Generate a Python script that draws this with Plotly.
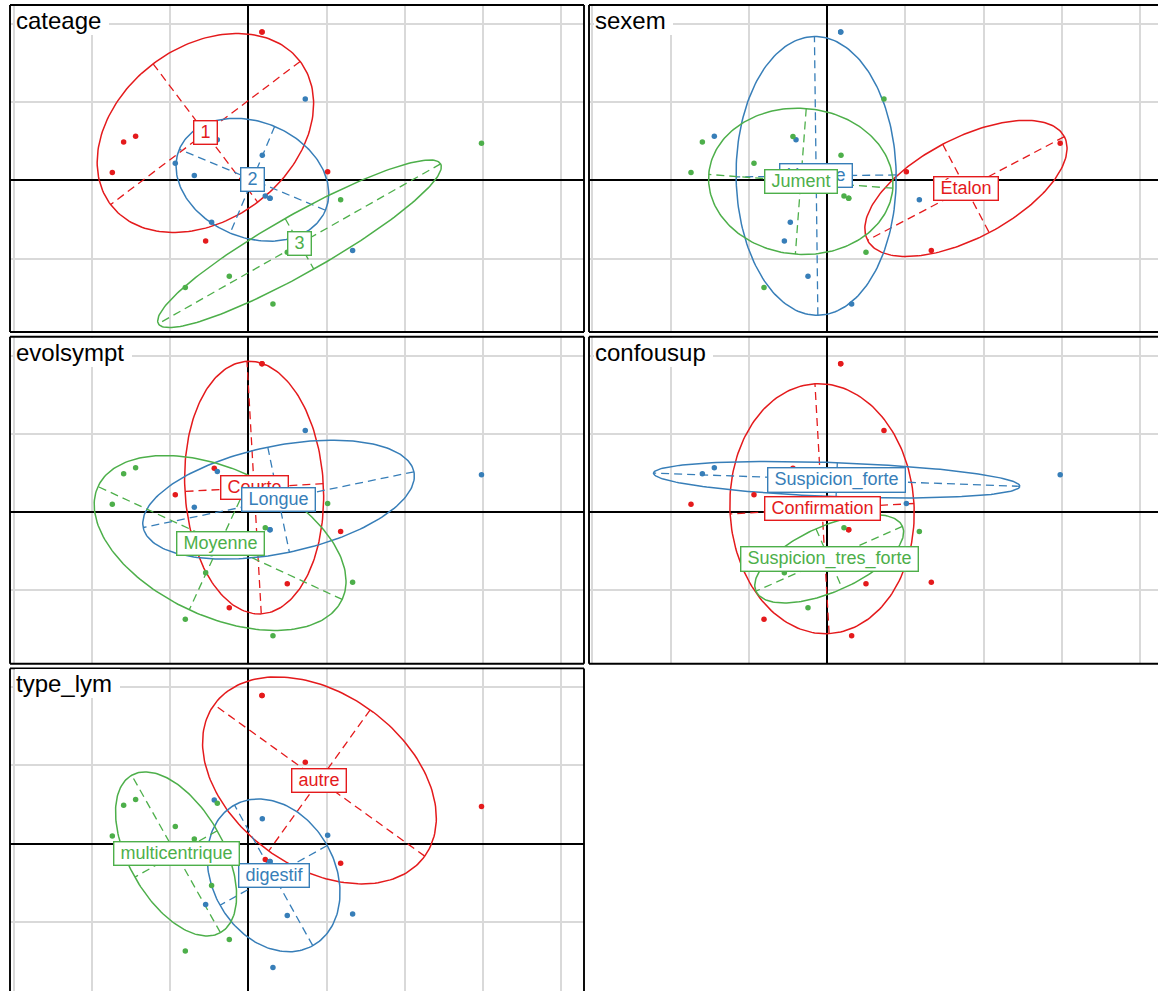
import numpy as np
import plotly.graph_objects as go

# ---------------- data ----------------
ind_x = [0.175, 0.175, 0.728, -1.440, -1.593, -0.435, -0.396, 0.179, -0.933, -1.738,
         1.014, 2.980, 1.180, 0.217, 0.277, 0.277, -0.469, -0.545, 0.498, 1.333,
         -0.243, -0.805, 0.315, -0.690]
ind_y = [1.895, 1.895, 1.040, 0.564, 0.490, 0.560, 0.518, 0.320, 0.219, 0.100,
         0.109, 0.475, -0.249, -0.202, -0.228, -0.228, -0.535, -0.777, -0.918, -0.897,
         -1.225, -1.370, -1.582, 0.060]

cateage = ["1", "1", "2", "1", "1", "1", "2", "2", "2", "1",
           "1", "3", "3", "2", "2", "2", "2", "1", "3", "2",
           "3", "3", "3", "2"]
sexem = ["Hongre", "Hongre", "Jument", "Hongre", "Jument", "Jument", "Hongre", "Jument", "Jument", "Jument",
         "Étalon", "Étalon", "Hongre", "Jument", "Jument", "Jument", "Hongre", "Hongre", "Jument", "Étalon",
         "Hongre", "Jument", "Hongre", "Jument"]
evolsympt = ["Courte", "Courte", "Longue", "Moyenne", "Moyenne", "Courte", "Longue", "Courte", "Courte", "Moyenne",
             "Moyenne", "Longue", "Courte", "Moyenne", "Longue", "Longue", "Longue", "Moyenne", "Courte", "Moyenne",
             "Courte", "Moyenne", "Moyenne", "Longue"]
confousup = ["Confirmation", "Confirmation", "Confirmation", "Suspicion_forte", "Suspicion_forte", "Confirmation",
             "Suspicion_forte", "Suspicion_forte", "Confirmation", "Confirmation",
             "Suspicion_forte", "Suspicion_forte", "Suspicion_tres_forte", "Suspicion_tres_forte", "Confirmation",
             "Confirmation", "Suspicion_tres_forte", "Suspicion_tres_forte", "Confirmation", "Confirmation",
             "Suspicion_tres_forte", "Confirmation", "Confirmation", "Confirmation"]
type_lym = ["autre", "autre", "autre", "multicentrique", "multicentrique", "digestif", "multicentrique", "digestif",
            "multicentrique", "multicentrique",
            "digestif", "autre", "autre", "autre", "digestif", "digestif", "multicentrique", "digestif", "digestif",
            "digestif", "multicentrique", "multicentrique", "digestif", "multicentrique"]

var_names = ["cateage", "sexem", "evolsympt", "confousup", "type_lym"]
var_values = [cateage, sexem, evolsympt, confousup, type_lym]
var_levels = [["1", "2", "3"],
              ["Étalon", "Hongre", "Jument"],
              ["Courte", "Longue", "Moyenne"],
              ["Confirmation", "Suspicion_forte", "Suspicion_tres_forte"],
              ["autre", "digestif", "multicentrique"]]
level_colors = ["#E41A1C", "#377EB8", "#4DAF4A"]
ellipse_size = 1.5

# ---------------- geometry (pixels) ----------------
W, H = 1158, 991
SCALE = 78.25
col_left = [10, 589]
col_right = [584, 1158]
col_origin = [248.3, 827.0]
row_top = [5.0, 336.7, 668.4]
panel_h = 327.0
origin_off = 175.3
FONT = "Liberation Sans, Arial, Helvetica, sans-serif"


def ellipse(xs, ys, coeff):
    xs = np.asarray(xs, float)
    ys = np.asarray(ys, float)
    mx, my = xs.mean(), ys.mean()
    vx = ((xs - mx) ** 2).mean()
    vy = ((ys - my) ** 2).mean()
    cxy = ((xs - mx) * (ys - my)).mean()
    delta = np.sqrt((vx - vy) ** 2 + 4 * cxy * cxy)
    l1 = max((vx + vy + delta) / 2, 0)
    l2 = max(vx + vy - l1, 0)
    l1, l2 = np.sqrt(l1), np.sqrt(l2)
    if abs(cxy) < 1e-10:
        a0, b0 = (1.0, 0.0) if vx > vy else (0.0, 1.0)
    else:
        a0 = 1.0
        b0 = (l1 * l1 - vx) / cxy
        n = np.hypot(a0, b0)
        a0, b0 = a0 / n, b0 / n
    c11 = coeff * a0 * l1
    c12 = -coeff * b0 * l2
    c21 = coeff * b0 * l1
    c22 = coeff * a0 * l2
    t = np.linspace(0, 2 * np.pi, 201)
    ex = mx + c11 * np.cos(t) + c12 * np.sin(t)
    ey = my + c21 * np.cos(t) + c22 * np.sin(t)
    seg1 = ([mx + c11, mx - c11], [my + c21, my - c21])
    seg2 = ([mx + c12, mx - c12], [my + c22, my - c22])
    return mx, my, ex, ey, seg1, seg2


fig = go.Figure()
layout = dict(width=W, height=H, margin=dict(l=0, r=0, t=0, b=0),
              paper_bgcolor="white", plot_bgcolor="white", showlegend=False,
              font=dict(family=FONT))
shapes = []
annotations = []

for i, (vname, vals, levels) in enumerate(zip(var_names, var_values, var_levels)):
    col, row = i % 2, i // 2
    k = "" if i == 0 else str(i + 1)
    xa, ya = "x" + k, "y" + k
    left, right = col_left[col], col_right[col]
    top = row_top[row]
    bottom = min(top + panel_h, H)
    ox, oy = col_origin[col], top + origin_off
    xr = [(left - ox) / SCALE, (right - ox) / SCALE]
    yr = [(oy - bottom) / SCALE, (oy - top) / SCALE]
    axis_common = dict(showticklabels=False, ticks="", showline=False,
                       showgrid=True, gridcolor="#D9D9D9", gridwidth=1.7,
                       dtick=1, tick0=0, zeroline=True, zerolinecolor="black",
                       zerolinewidth=1.6, fixedrange=True)
    layout["xaxis" + k] = dict(axis_common, range=xr, domain=[left / W, right / W], anchor=ya)
    layout["yaxis" + k] = dict(axis_common, range=yr, domain=[1 - bottom / H, 1 - top / H], anchor=xa)

    centers = []
    for li, lev in enumerate(levels):
        idx = [j for j, v in enumerate(vals) if v == lev]
        gx = [ind_x[j] for j in idx]
        gy = [ind_y[j] for j in idx]
        colr = level_colors[li]
        mx, my, ex, ey, s1, s2 = ellipse(gx, gy, ellipse_size)
        centers.append((mx, my, lev, colr))
        for s in (s1, s2):
            fig.add_trace(go.Scatter(x=s[0], y=s[1], mode="lines", xaxis=xa, yaxis=ya,
                                     line=dict(color=colr, width=1.3, dash="8px,5px"),
                                     hoverinfo="skip"))
        fig.add_trace(go.Scatter(x=ex, y=ey, mode="lines", xaxis=xa, yaxis=ya,
                                 line=dict(color=colr, width=1.5), hoverinfo="skip"))
    for li, lev in enumerate(levels):
        idx = [j for j, v in enumerate(vals) if v == lev]
        fig.add_trace(go.Scatter(x=[ind_x[j] for j in idx], y=[ind_y[j] for j in idx],
                                 mode="markers", xaxis=xa, yaxis=ya,
                                 marker=dict(color=level_colors[li], size=5.5, line=dict(width=0)),
                                 name=lev))
    for mx, my, lev, colr in centers:
        annotations.append(dict(x=mx, y=my, xref=xa, yref=ya, text="\u00a0" + lev + "\u00a0",
                                showarrow=False, font=dict(size=18, color=colr, family=FONT),
                                bgcolor="white", bordercolor=colr, borderwidth=1.4, borderpad=1,
                                xanchor="center", yanchor="middle"))

    # frame
    lw = 1.9
    lp, rp = left / W, right / W
    tp, bp = 1 - top / H, 1 - bottom / H
    shapes.append(dict(type="line", xref="paper", yref="paper", x0=lp, x1=lp, y0=bp, y1=tp,
                       line=dict(color="black", width=lw)))
    shapes.append(dict(type="line", xref="paper", yref="paper", x0=lp, x1=rp, y0=tp, y1=tp,
                       line=dict(color="black", width=lw)))
    if right < W:
        shapes.append(dict(type="line", xref="paper", yref="paper", x0=rp, x1=rp, y0=bp, y1=tp,
                           line=dict(color="black", width=lw)))
    if top + panel_h <= H:
        shapes.append(dict(type="line", xref="paper", yref="paper", x0=lp, x1=rp, y0=bp, y1=bp,
                           line=dict(color="black", width=lw)))

    # title box
    annotations.append(dict(x=left / W, y=1 - top / H, xref="paper", yref="paper",
                            text=vname + "\u00a0", showarrow=False, xanchor="left", yanchor="top",
                            font=dict(size=24, color="black", family=FONT),
                            bgcolor="white", borderpad=1, borderwidth=0, xshift=5, yshift=-1))

layout["shapes"] = shapes
layout["annotations"] = annotations
fig.update_layout(**layout)
fig.write_html("out.html", config={"displayModeBar": False})
